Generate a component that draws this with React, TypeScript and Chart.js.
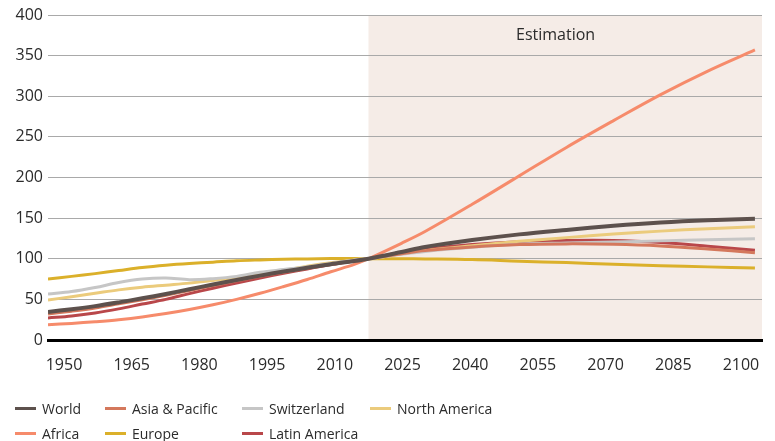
import React, { useEffect, useRef } from "react";
import { Chart, registerables } from "chart.js";

Chart.register(...registerables);

// Population index (base year = 100)
const years = [1950, 1955, 1960, 1965, 1970, 1975, 1980, 1985, 1990, 1995, 2000, 2005, 2010, 2015, 2018, 2025, 2030, 2040, 2050, 2060, 2070, 2080, 2090, 2100];

const world = [34.6, 37.9, 41.7, 46.3, 51.3, 56.7, 62.5, 68.3, 73.8, 79.2, 84.2, 88.8, 93.3, 97.2, 100, 108.3, 114.5, 123, 130, 135.5, 140.5, 144.5, 147.3, 149.2];
const asiaPacific = [32, 35.5, 39.5, 44.5, 49.5, 55, 61, 67, 72.8, 78.5, 83.5, 88.3, 93, 97.5, 100, 106, 110, 114.5, 117.5, 118.3, 117.8, 115.8, 112, 107.5];
const switzerland = [56.7, 59.6, 64.6, 70.8, 75, 76.3, 74.2, 75.5, 78.3, 83.3, 86.7, 90, 94.2, 98.5, 100, 105.5, 109, 114, 118, 119.5, 120.7, 122, 123.3, 124.6];
const northAmerica = [49.2, 53.3, 57.5, 61.7, 65, 67.5, 70, 73.3, 76.7, 81.3, 85.8, 90.8, 95, 98.3, 100, 106, 110, 116, 121.5, 126, 130.5, 134, 137, 139.3];
const africa = [18.8, 20.4, 22.5, 25, 28.3, 32.5, 37.5, 43.3, 50, 57.5, 65.8, 74.5, 84, 93, 100, 119, 133.5, 167, 202, 237, 270, 302, 331, 357];
const europe = [75, 78.3, 81.7, 85.5, 89.3, 92.1, 94.2, 95.8, 97.5, 98.5, 99.3, 99.8, 100.2, 100.2, 100, 100, 99.8, 99, 97, 95.3, 93.3, 91.5, 90, 88.7];
const latinAmerica = [27.1, 29.6, 33.3, 38.3, 44.2, 50, 57.1, 63.8, 70, 76.3, 82.1, 87.5, 92.9, 97.2, 100, 108, 112, 117.5, 121, 122.5, 122.5, 120, 115.5, 110.5];

const tickYears = [1950, 1965, 1980, 1995, 2010, 2025, 2040, 2055, 2070, 2085, 2100];
const yTicks = [0, 50, 100, 150, 200, 250, 300, 350, 400];

const estimationStart = 2018;
const estimationLabel = "Estimation";

const seriesNames = ["World", "Asia & Pacific", "Switzerland", "North America", "Africa", "Europe", "Latin America"];
const seriesData = [world, asiaPacific, switzerland, northAmerica, africa, europe, latinAmerica];
const seriesColors = ["#5d514d", "#d4785c", "#c6c6c6", "#ebcb7c", "#f68b6b", "#dbb02a", "#b9474a"];
const seriesWidths = [4, 3, 3, 3, 3, 3, 3];

const FONT = "'Open Sans', 'Noto Sans', sans-serif";
const TEXT = "#2b2b2b";

const estimationPlugin = {
  id: "estimationBand",
  beforeDraw(chart: any) {
    const { ctx, chartArea } = chart;
    const xs = chart.scales.x;
    const ys = chart.scales.y;
    const x0 = xs.getPixelForValue(estimationStart);
    ctx.save();
    ctx.fillStyle = "#f5ece7";
    ctx.fillRect(x0, chartArea.top, chartArea.right - x0, chartArea.bottom - chartArea.top);
    ctx.fillStyle = TEXT;
    ctx.font = `16px ${FONT}`;
    ctx.textAlign = "center";
    ctx.textBaseline = "middle";
    ctx.fillText(estimationLabel, xs.getPixelForValue(2057.7), ys.getPixelForValue(375));
    ctx.restore();
  },
};

function Legend() {
  const cols = [15, 105, 242, 370];
  return (
    <>
      {seriesNames.map((name, i) => {
        const row = i < 4 ? 0 : 1;
        const col = i < 4 ? i : i - 4;
        const cy = row === 0 ? 408 : 433;
        return (
          <div
            key={name}
            style={{
              position: "absolute",
              left: cols[col],
              top: cy - 10,
              height: 20,
              display: "flex",
              alignItems: "center",
              fontFamily: FONT,
              fontSize: 14,
              color: TEXT,
              whiteSpace: "nowrap",
            }}
          >
            <span style={{ display: "inline-block", width: 21, height: 3, background: seriesColors[i], marginRight: 6 }} />
            <span>{name}</span>
          </div>
        );
      })}
    </>
  );
}

export default function App() {
  const canvasRef = useRef<HTMLCanvasElement | null>(null);

  useEffect(() => {
    if (!canvasRef.current) return;
    const chart = new Chart(canvasRef.current, {
      type: "line",
      data: {
        datasets: seriesNames.map((name, i) => ({
          label: name,
          data: years.map((yr, j) => ({ x: yr, y: seriesData[i][j] })),
          borderColor: seriesColors[i],
          backgroundColor: seriesColors[i],
          borderWidth: seriesWidths[i],
          pointRadius: 0,
          tension: 0.35,
          fill: false,
          xAxisID: "x",
          yAxisID: "y",
        })),
      },
      options: {
        animation: false,
        responsive: false,
        maintainAspectRatio: false,
        layout: { padding: { top: 15, right: 13, left: 0, bottom: 0 } },
        plugins: {
          legend: { display: false },
          tooltip: { enabled: false },
        },
        scales: {
          x: {
            type: "linear",
            display: false,
            min: 1950,
            max: 2101.5,
          },
          xl: {
            type: "linear",
            position: "bottom",
            min: 1946.45,
            max: 2104.66,
            afterBuildTicks: (scale: any) => {
              scale.ticks = tickYears.map((v) => ({ value: v }));
            },
            afterFit: (scale: any) => {
              scale.height = 101;
              scale.paddingLeft = 0;
              scale.paddingRight = 0;
            },
            grid: { display: false, drawTicks: false },
            border: { display: true, color: "#000000", width: 3 },
            ticks: {
              color: TEXT,
              font: { family: FONT, size: 16 },
              padding: 16,
              maxRotation: 0,
              autoSkip: false,
              callback: (v: any) => String(v),
            },
          },
          y: {
            type: "linear",
            min: 0,
            max: 400,
            afterBuildTicks: (scale: any) => {
              scale.ticks = yTicks.map((v) => ({ value: v }));
            },
            afterFit: (scale: any) => {
              scale.width = 48;
              scale.paddingTop = 0;
              scale.paddingBottom = 0;
            },
            grid: { color: "#a9a9a9", lineWidth: 1, drawTicks: false },
            border: { display: false },
            ticks: {
              color: TEXT,
              font: { family: FONT, size: 16 },
              padding: 5,
            },
          },
        },
      },
      plugins: [estimationPlugin],
    });
    return () => chart.destroy();
  }, []);

  return (
    <div style={{ position: "fixed", left: 0, top: 0, width: 775, height: 441, background: "#ffffff", overflow: "hidden" }}>
      <canvas ref={canvasRef} width={775} height={441} style={{ position: "absolute", left: 0, top: 0, width: 775, height: 441 }} />
      <Legend />
    </div>
  );
}
